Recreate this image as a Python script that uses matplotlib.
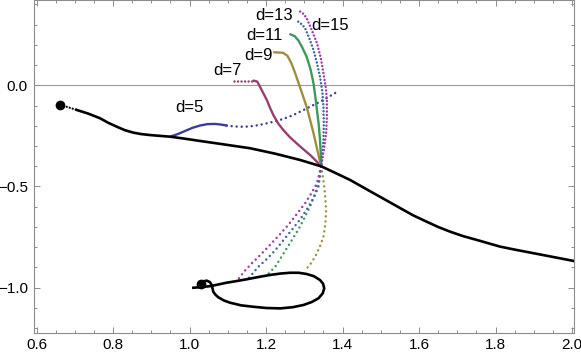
import numpy as np
import matplotlib
matplotlib.use("Agg")
import matplotlib.pyplot as plt
from matplotlib.ticker import MultipleLocator, FuncFormatter

plt.rcParams['font.family'] = ['Liberation Sans', 'DejaVu Sans']

# main black trajectory
black_x = [0.661, 0.705, 0.735, 0.766, 0.787, 0.810, 0.831, 0.853, 0.873, 0.897, 0.923,
           0.949, 0.988, 1.027, 1.093, 1.158, 1.224, 1.289, 1.345, 1.380, 1.420, 1.450,
           1.480, 1.516, 1.550, 1.584, 1.620, 1.650, 1.681, 1.715, 1.751, 1.812, 1.851,
           1.898, 1.942, 2.005]
black_y = [-0.096, -0.122, -0.140, -0.163, -0.185, -0.205, -0.222, -0.234, -0.241, -0.246, -0.250,
           -0.254, -0.264, -0.275, -0.293, -0.311, -0.338, -0.369, -0.401, -0.432, -0.468, -0.500,
           -0.532, -0.570, -0.606, -0.642, -0.674, -0.700, -0.723, -0.745, -0.764, -0.797, -0.812,
           -0.829, -0.845, -0.868]

# lower loop trajectory
loop_x = [1.029, 1.037, 1.045, 1.053, 1.058, 1.062, 1.068, 1.075, 1.090, 1.106, 1.135,
          1.167, 1.200, 1.237, 1.270, 1.298, 1.320, 1.337, 1.348, 1.352, 1.349, 1.341,
          1.325, 1.306, 1.285, 1.263, 1.237, 1.210, 1.180, 1.150, 1.120, 1.097, 1.075,
          1.054, 1.030, 1.010]
loop_y = [-0.982, -0.968, -0.965, -0.972, -0.987, -1.020, -1.035, -1.047, -1.063, -1.074, -1.087,
          -1.094, -1.100, -1.102, -1.096, -1.085, -1.070, -1.052, -1.028, -1.003, -0.980, -0.962,
          -0.943, -0.932, -0.926, -0.926, -0.930, -0.937, -0.947, -0.958, -0.968, -0.975, -0.984,
          -0.992, -0.997, -1.000]

d5_x = [0.949, 0.968, 0.988, 1.008, 1.027, 1.047, 1.066, 1.082, 1.097, 1.115, 1.132, 1.150,
        1.167, 1.185, 1.202, 1.220, 1.237, 1.254, 1.271, 1.293, 1.315, 1.332, 1.350, 1.370, 1.391]
d5_y = [-0.254, -0.242, -0.226, -0.210, -0.199, -0.192, -0.191, -0.194, -0.199, -0.203, -0.205, -0.204,
        -0.201, -0.195, -0.188, -0.180, -0.171, -0.160, -0.147, -0.127, -0.106, -0.090, -0.073, -0.050, -0.027]

d7_x = [1.117, 1.167, 1.177, 1.184, 1.193, 1.202, 1.210, 1.219, 1.231, 1.245, 1.262, 1.280,
        1.298, 1.315, 1.330, 1.344]
d7_y = [0.023, 0.023, 0.018, -0.007, -0.040, -0.073, -0.110, -0.147, -0.187, -0.221, -0.256, -0.287,
        -0.317, -0.344, -0.372, -0.401]

d9_x = [1.221, 1.245, 1.256, 1.266, 1.276, 1.286, 1.296, 1.306, 1.315, 1.324, 1.334, 1.344,
        1.350, 1.354, 1.357, 1.355, 1.350, 1.340, 1.328, 1.316, 1.302]
d9_y = [0.163, 0.160, 0.145, 0.110, 0.060, 0.005, -0.050, -0.106, -0.170, -0.237, -0.320, -0.401,
        -0.470, -0.534, -0.616, -0.685, -0.748, -0.800, -0.847, -0.883, -0.914]

d11_x = [1.263, 1.275, 1.285, 1.295, 1.306, 1.316, 1.324, 1.329, 1.333, 1.338, 1.341, 1.343, 1.344,
         1.338, 1.328, 1.316, 1.302, 1.285, 1.267, 1.245, 1.224, 1.203]
d11_y = [0.252, 0.242, 0.220, 0.185, 0.141, 0.080, 0.010, -0.060, -0.122, -0.200, -0.270, -0.340, -0.401,
         -0.470, -0.534, -0.595, -0.649, -0.710, -0.766, -0.833, -0.896, -0.937]

d13_x = [1.284, 1.294, 1.302, 1.313, 1.324, 1.333, 1.341, 1.347, 1.350, 1.351, 1.350, 1.347, 1.344,
         1.337, 1.326, 1.311, 1.290, 1.267, 1.245, 1.224, 1.202, 1.180, 1.154]
d13_y = [0.314, 0.300, 0.282, 0.232, 0.174, 0.110, 0.042, -0.030, -0.106, -0.190, -0.270, -0.340, -0.401,
         -0.501, -0.550, -0.600, -0.660, -0.715, -0.766, -0.815, -0.858, -0.896, -0.954]

d15_x = [1.289, 1.298, 1.306, 1.320, 1.333, 1.343, 1.350, 1.356, 1.359, 1.359, 1.357, 1.351, 1.344,
         1.333, 1.318, 1.302, 1.280, 1.258, 1.232, 1.206, 1.184, 1.163, 1.145, 1.132, 1.123]
d15_y = [0.364, 0.352, 0.331, 0.270, 0.208, 0.135, 0.059, -0.010, -0.073, -0.160, -0.237, -0.320, -0.401,
         -0.484, -0.535, -0.583, -0.637, -0.690, -0.745, -0.797, -0.840, -0.879, -0.915, -0.946, -0.970]

labels = ["d=5", "d=7", "d=9", "d=11", "d=13", "d=15"]
label_x = [0.999, 1.099, 1.180, 1.197, 1.220, 1.367]
label_y = [-0.112, 0.071, 0.145, 0.244, 0.342, 0.293]

start_x = [0.661, 1.029]
start_y = [-0.096, -0.982]

# styling: colour, index where solid/dotted changes, which part is solid
colors = [(0.24, 0.24, 0.60), (0.60, 0.24, 0.42), (0.62, 0.56, 0.24),
          (0.24, 0.60, 0.36), (0.24, 0.40, 0.64), (0.62, 0.24, 0.64)]
curves = [(d5_x, d5_y, 8, 'head'), (d7_x, d7_y, 1, 'tail'), (d9_x, d9_y, 11, 'head'),
          (d11_x, d11_y, 12, 'head'), (d13_x, d13_y, 12, 'dense'), (d15_x, d15_y, 12, 'dense')]

dots = dict(linestyle=(0, (0.01, 2.0)), dash_capstyle='round', lw=1.8)
dense = dict(linestyle=(0, (0.01, 1.4)), dash_capstyle='round', lw=1.8)

fig = plt.figure(figsize=(5.81, 3.55), dpi=100)
ax = fig.add_axes([33.5 / 581, 22.3 / 355, (574 - 33.5) / 581, (332.7 - 0) / 355])

ax.axhline(0, color='#9a9a9a', lw=0.8, zorder=1)

for (cx, cy, k, mode), c in zip(curves, colors):
    a_x, a_y = cx[:k + 1], cy[:k + 1]
    b_x, b_y = cx[k:], cy[k:]
    if mode == 'head':
        ax.plot(a_x, a_y, color=c, lw=1.7, solid_capstyle='round', solid_joinstyle='round', zorder=3)
        ax.plot(b_x, b_y, color=c, **dots, zorder=3)
    elif mode == 'tail':
        ax.plot(a_x, a_y, color=c, **dense, zorder=3)
        ax.plot(b_x, b_y, color=c, lw=1.7, solid_capstyle='round', solid_joinstyle='round', zorder=3)
    else:
        ax.plot(a_x, a_y, color=c, **dense, zorder=3)
        ax.plot(b_x, b_y, color=c, **dots, zorder=3)

ax.plot(black_x[:2], black_y[:2], color='black', lw=1.4, linestyle=(0, (1, 0.6)), zorder=4)
ax.plot(black_x[1:], black_y[1:], color='black', lw=1.9, solid_joinstyle='round', zorder=4)
ax.plot(loop_x, loop_y, color='black', lw=1.9, solid_joinstyle='round', zorder=4)
ax.plot(start_x, start_y, 'o', color='black', ms=6, zorder=5)

for t, lx, ly in zip(labels, label_x, label_y):
    ax.text(lx, ly, t, fontsize=12, ha='center', va='center', zorder=6)

ax.set_xlim(0.592, 2.005)
ax.set_ylim(-1.222, 0.421)

ax.xaxis.set_major_locator(MultipleLocator(0.2))
ax.xaxis.set_minor_locator(MultipleLocator(0.05))
ax.yaxis.set_major_locator(MultipleLocator(0.5))
ax.yaxis.set_minor_locator(MultipleLocator(0.1))
fmt = FuncFormatter(lambda v, p: f"{v:.1f}".replace('-', '\u2212'))
ax.xaxis.set_major_formatter(fmt)
ax.yaxis.set_major_formatter(fmt)

for s in ax.spines.values():
    s.set_color('#8c8c8c')
    s.set_linewidth(0.8)
ax.tick_params(which='both', direction='in', top=True, right=True, color='#8c8c8c',
               labelsize=11, width=0.7)
ax.tick_params(which='major', length=4.5)
ax.tick_params(which='minor', length=2.5)
ax.tick_params(axis='x', pad=4)
ax.tick_params(axis='y', pad=4)

fig.savefig("out.png", dpi=100)
